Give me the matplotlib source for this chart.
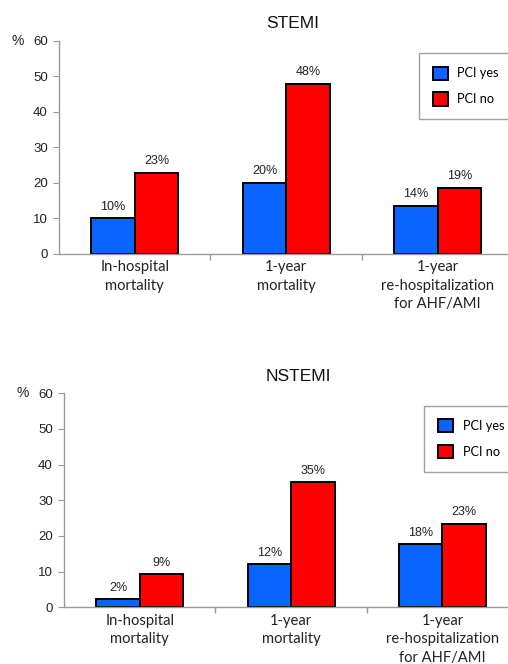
import numpy as np
import matplotlib.pyplot as plt

plt.rcParams["font.family"] = ["Liberation Sans", "DejaVu Sans"]

categories = ["In-hospital\nmortality", "1-year\nmortality",
              "1-year\nre-hospitalization\nfor AHF/AMI"]
series_names = ["PCI yes", "PCI no"]

stemi_pci_yes = [10.1, 20.1, 13.6]
stemi_pci_no = [22.8, 48.0, 18.6]
nstemi_pci_yes = [2.2, 12.1, 17.7]
nstemi_pci_no = [9.3, 35.0, 23.4]

y_ticks = [0, 10, 20, 30, 40, 50, 60]

BLUE = "#0a64ff"
RED = "#ff0000"
LABEL_FONT = ["Lato", "DejaVu Sans"]


def draw_panel(fig, rect, title, yes_vals, no_vals, legend_box):
    ax = fig.add_axes(rect)
    x = np.arange(len(categories))
    w = 0.287
    b1 = ax.bar(x - w / 2, yes_vals, w, color=BLUE, edgecolor="black",
                linewidth=1.4, label=series_names[0])
    b2 = ax.bar(x + w / 2, no_vals, w, color=RED, edgecolor="black",
                linewidth=1.4, label=series_names[1])

    # value labels above each bar
    for bars, vals in ((b1, yes_vals), (b2, no_vals)):
        for bar, v in zip(bars, vals):
            ax.annotate(f"{v:.0f}%", (bar.get_x() + bar.get_width() / 2, v),
                        xytext=(0, 4), textcoords="offset points",
                        ha="center", va="bottom", fontsize=9, color="#222222")

    ax.set_xlim(-0.5, 2.5)
    ax.set_ylim(0, 60)
    ax.set_yticks(y_ticks)
    ax.set_xticks(x)
    ax.set_xticklabels(categories, fontsize=10.6, linespacing=1.42,
                       color="#222222", family=LABEL_FONT)
    ax.set_xticks([0.5, 1.5], minor=True)
    ax.tick_params(axis="x", which="major", length=0, pad=4.5)
    ax.tick_params(axis="x", which="minor", length=4, color="#999999", width=1)
    ax.tick_params(axis="y", length=4, color="#999999", labelsize=9.5,
                   labelcolor="#222222", pad=4)

    for side in ("top", "right"):
        ax.spines[side].set_visible(False)
    for side in ("left", "bottom"):
        ax.spines[side].set_color("#999999")
        ax.spines[side].set_linewidth(1)

    ax.set_title(title, fontsize=12.5, pad=9, x=0.515, color="#111111")
    ax.text(-0.09, 1.0, "%", transform=ax.transAxes, fontsize=10,
            ha="center", va="center", color="#222222")

    leg = ax.legend(loc="upper left", bbox_to_anchor=legend_box,
                    bbox_transform=fig.transFigure,
                    prop={"family": LABEL_FONT, "size": 9.2},
                    frameon=True, fancybox=False, handlelength=1.2,
                    handleheight=1.2, handletextpad=0.75, borderpad=1.05,
                    labelspacing=1.0, borderaxespad=0)
    leg.get_frame().set_edgecolor("#888888")
    leg.get_frame().set_linewidth(1)
    return ax


fig = plt.figure(figsize=(5.08, 6.64), dpi=100)
draw_panel(fig, [0.116, 0.6175, 0.895, 0.3208], "STEMI",
           stemi_pci_yes, stemi_pci_no, (0.825, 0.920))
draw_panel(fig, [0.126, 0.0854, 0.894, 0.3223], "NSTEMI",
           nstemi_pci_yes, nstemi_pci_no, (0.835, 0.389))

fig.savefig("out.png", dpi=100)
